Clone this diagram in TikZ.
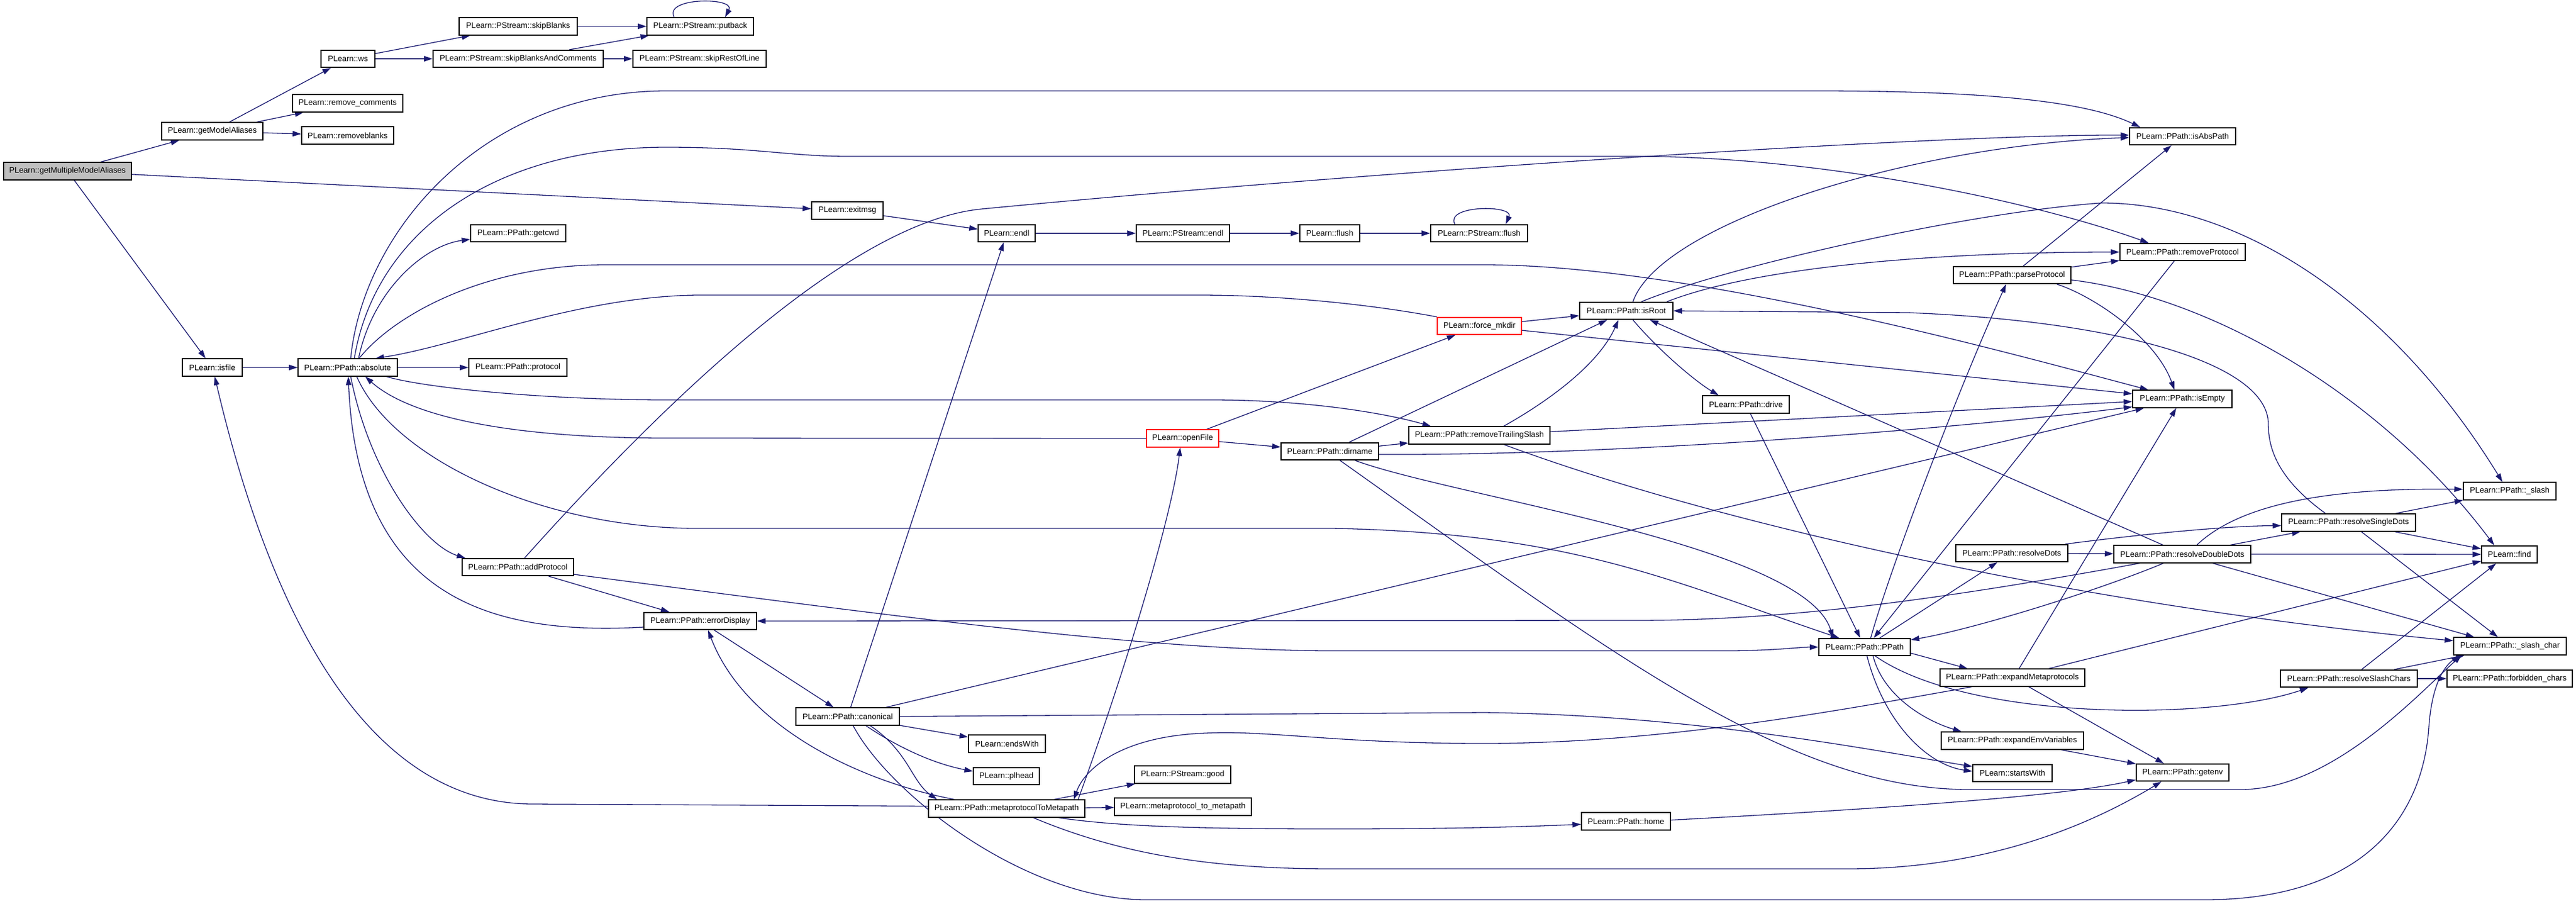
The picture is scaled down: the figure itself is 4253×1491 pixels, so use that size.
\documentclass[tikz,border=0pt]{standalone}
\usepackage{fontspec}
\setmainfont{Liberation Sans}
\usetikzlibrary{arrows.meta}
\pgfdeclarelayer{edgelayer}
\pgfsetlayers{edgelayer,main}
\definecolor{edgeblue}{HTML}{191970}
\definecolor{rootgrey}{HTML}{BFBFBF}
\tikzset{
  fn/.style={draw=black, line width=1.6pt, fill=white, rectangle, inner sep=0pt,
    minimum height=28.5pt, font=\fontsize{13.2}{15}\selectfont, text=black},
  redfn/.style={fn, draw=red},
  rootfn/.style={fn, fill=rootgrey},
  cedge/.style={draw=edgeblue, line width=1.3pt, -{Triangle[length=14pt,width=9pt]}},
}
\begin{document}
\begin{tikzpicture}[x=1pt,y=-1pt]
\useasboundingbox (0,0) rectangle (4253,1491);
% ---------------- nodes ----------------
\node[rootfn, minimum width=211pt] (gmma) at (111.5,282.5) {PLearn::getMultipleModelAliases};
\node[fn, minimum width=167pt] (gma) at (350.5,216.5) {PLearn::getModelAliases};
\node[fn, minimum width=89pt] (ws) at (574.5,97) {PLearn::ws};
\node[fn, minimum width=182pt] (rmc) at (574,170.5) {PLearn::remove\_comments};
\node[fn, minimum width=152pt] (rmb) at (574,223.5) {PLearn::removeblanks};
\node[fn, minimum width=195pt] (skb) at (855.5,43.5) {PLearn::PStream::skipBlanks};
\node[fn, minimum width=281pt] (skbc) at (855.5,97) {PLearn::PStream::skipBlanksAndComments};
\node[fn, minimum width=176pt] (putback) at (1156,43.5) {PLearn::PStream::putback};
\node[fn, minimum width=220pt] (skrol) at (1155,97) {PLearn::PStream::skipRestOfLine};
\node[fn, minimum width=118pt] (exitmsg) at (1399,347.5) {PLearn::exitmsg};
\node[fn, minimum width=94pt] (endl) at (1662,385) {PLearn::endl};
\node[fn, minimum width=154pt] (psendl) at (1953,385) {PLearn::PStream::endl};
\node[fn, minimum width=99pt] (flush) at (2195.5,385) {PLearn::flush};
\node[fn, minimum width=160pt] (psflush) at (2442,385) {PLearn::PStream::flush};
\node[fn, minimum width=157pt] (getcwd) at (855.5,385) {PLearn::PPath::getcwd};
\node[fn, minimum width=99pt] (isfile) at (350.5,606.5) {PLearn::isfile};
\node[fn, minimum width=164pt] (absolute) at (574,606.5) {PLearn::PPath::absolute};
\node[fn, minimum width=162pt] (protocol) at (855,606.5) {PLearn::PPath::protocol};
\node[fn, minimum width=184pt] (addProtocol) at (855,936) {PLearn::PPath::addProtocol};
\node[fn, minimum width=186pt] (errorDisplay) at (1156,1025) {PLearn::PPath::errorDisplay};
\node[fn, minimum width=171pt] (canonical) at (1399.5,1182.5) {PLearn::PPath::canonical};
\node[fn, minimum width=127pt] (endsWith) at (1662.5,1227.5) {PLearn::endsWith};
\node[fn, minimum width=109pt] (plhead) at (1661.5,1281) {PLearn::plhead};
\node[fn, minimum width=258pt] (m2m) at (1662,1334.5) {PLearn::PPath::metaprotocolToMetapath};
\node[fn, minimum width=159pt] (psgood) at (1952.5,1278.5) {PLearn::PStream::good};
\node[fn, minimum width=226pt] (mtm) at (1953,1331.5) {PLearn::metaprotocol\_to\_metapath};
\node[redfn, minimum width=119pt] (openFile) at (1952.5,723.5) {PLearn::openFile};
\node[fn, minimum width=161pt] (dirname) at (2195.5,745) {PLearn::PPath::dirname};
\node[redfn, minimum width=139pt] (forcemkdir) at (2442.5,538) {PLearn::force\_mkdir};
\node[fn, minimum width=154pt] (isRoot) at (2685,513) {PLearn::PPath::isRoot};
\node[fn, minimum width=143pt] (drive) at (2882.5,667.5) {PLearn::PPath::drive};
\node[fn, minimum width=233pt] (rts) at (2442.5,718.5) {PLearn::PPath::removeTrailingSlash};
\node[fn, minimum width=151pt] (ppath) at (3078.5,1068) {PLearn::PPath::PPath};
\node[fn, minimum width=147pt] (home) at (2684.5,1355.5) {PLearn::PPath::home};
\node[fn, minimum width=175pt] (isAbsPath) at (3603.5,225) {PLearn::PPath::isAbsPath};
\node[fn, minimum width=207pt] (removeProtocol) at (3603.5,416) {PLearn::PPath::removeProtocol};
\node[fn, minimum width=194pt] (parseProtocol) at (3322,454) {PLearn::PPath::parseProtocol};
\node[fn, minimum width=164pt] (isEmpty) at (3603,658.5) {PLearn::PPath::isEmpty};
\node[fn, minimum width=153pt] (slash) at (4143.5,810.5) {PLearn::PPath::\_slash};
\node[fn, minimum width=221pt] (rsd) at (3877.5,862.5) {PLearn::PPath::resolveSingleDots};
\node[fn, minimum width=185pt] (resolveDots) at (3321.5,913) {PLearn::PPath::resolveDots};
\node[fn, minimum width=226pt] (rdd) at (3603,914.5) {PLearn::PPath::resolveDoubleDots};
\node[fn, minimum width=92pt] (find) at (4143,915) {PLearn::find};
\node[fn, minimum width=186pt] (slashchar) at (4144,1066.5) {PLearn::PPath::\_slash\_char};
\node[fn, minimum width=239pt] (expandMeta) at (3322.5,1118.5) {PLearn::PPath::expandMetaprotocols};
\node[fn, minimum width=226pt] (rsc) at (3878,1120) {PLearn::PPath::resolveSlashChars};
\node[fn, minimum width=207pt] (forbidden) at (4143.5,1120) {PLearn::PPath::forbidden\_chars};
\node[fn, minimum width=235pt] (expandEnv) at (3322.5,1222.5) {PLearn::PPath::expandEnvVariables};
\node[fn, minimum width=131pt] (startsWith) at (3322.5,1276) {PLearn::startsWith};
\node[fn, minimum width=153pt] (getenv) at (3603.5,1275) {PLearn::PPath::getenv};
% ---------------- edges ----------------
\begin{pgfonlayer}{edgelayer}
\draw[cedge] (gmma) -- (gma);
\draw[cedge] (gmma) -- (exitmsg);
\draw[cedge] (gmma) -- (isfile);
\draw[cedge] (gma) -- (ws);
\draw[cedge] (gma) -- (rmc);
\draw[cedge] (gma) -- (rmb);
\draw[cedge] (ws) -- (skb);
\draw[cedge] (ws) -- (skbc);
\draw[cedge] (skb) -- (putback);
\draw[cedge] (skbc) -- (putback);
\draw[cedge] (skbc) -- (skrol);
\draw[cedge] ([xshift=-43pt]putback.north) .. controls (1095,-5) and (1215,-5) .. ([xshift=41pt]putback.north);
\draw[cedge] (exitmsg) -- (endl);
\draw[cedge] (endl) -- (psendl);
\draw[cedge] (psendl) -- (flush);
\draw[cedge] (flush) -- (psflush);
\draw[cedge] ([xshift=-40pt]psflush.north) .. controls (2385,338) and (2500,338) .. ([xshift=44pt]psflush.north);
\draw[cedge] (isfile) -- (absolute);
\draw[cedge] (absolute) -- (protocol);
% absolute
\draw[cedge] ([xshift=18pt]absolute.north) .. controls (615,480) and (700,405) .. ([yshift=5pt]getcwd.south west);
\draw[cedge] ([xshift=5pt]absolute.north) .. controls (600,380) and (800,150) .. (1100,150) -- (3000,150) .. controls (3300,150) and (3450,170) .. ([xshift=-70pt]isAbsPath.north);
\draw[cedge] ([xshift=11pt]absolute.north) .. controls (620,380) and (820,243) .. (1100,243) .. controls (1250,243) and (1300,258) .. (1400,258) -- (2700,258) .. controls (3000,258) and (3350,330) .. ([xshift=-56pt]removeProtocol.north);
\draw[cedge] ([xshift=19pt]absolute.north) .. controls (650,520) and (800,437) .. (1000,437) -- (2450,437) .. controls (2800,437) and (3347,591) .. ([xshift=-56pt]isEmpty.north);
\draw[cedge] ([xshift=64pt]absolute.south) .. controls (700,640) and (900,660) .. (1100,660) -- (2000,660) .. controls (2150,660) and (2280,680) .. ([xshift=-80pt]rts.north);
\draw[cedge] ([xshift=15pt]absolute.south) .. controls (650,760) and (900,872) .. (1150,872) -- (2200,872) .. controls (2600,880) and (2760,960) .. ([xshift=-42pt]ppath.north);
\draw[cedge] ([xshift=5pt]absolute.south) .. controls (610,780) and (700,900) .. ([xshift=6pt]addProtocol.north west);
\draw[cedge] ([yshift=-10pt]errorDisplay.west) .. controls (800,1050) and (590,980) .. ([xshift=1pt]absolute.south);
\draw[cedge] (openFile.west) -- (1100,723) .. controls (850,723) and (680,690) .. ([xshift=29pt]absolute.south);
% addProtocol
\draw[cedge] ([xshift=11pt]addProtocol.north) .. controls (1191,558) and (1447,362) .. (1620,345) .. controls (2300,280) and (3200,222) .. ([yshift=2pt]isAbsPath.west);
\draw[cedge] ([yshift=-12pt]addProtocol.east) .. controls (1500,1020) and (1900,1074) .. (2200,1074) -- (2850,1074) .. controls (2930,1074) and (2970,1068) .. (ppath.west);
\draw[cedge] (addProtocol) -- (errorDisplay);
% errorDisplay
\draw[cedge] (errorDisplay) -- (canonical);
\draw[cedge] ([xshift=-86pt]m2m.north) .. controls (1420,1290) and (1230,1200) .. ([xshift=13pt]errorDisplay.south);
% canonical
\draw[cedge] (canonical) -- (endl);
\draw[cedge] (canonical) -- (isEmpty);
\draw[cedge] (canonical.east) -- (2450,1176) .. controls (2800,1180) and (3100,1240) .. ([yshift=11pt]startsWith.west);
\draw[cedge] (canonical) -- (endsWith);
\draw[cedge] ([xshift=30pt]canonical.south) .. controls (1470,1225) and (1530,1258) .. ([yshift=8pt]plhead.west);
\draw[cedge] ([xshift=37pt]canonical.south) .. controls (1500,1240) and (1505,1290) .. ([xshift=-115pt]m2m.north);
\draw[cedge] ([xshift=9pt]canonical.south) .. controls (1468,1310) and (1692,1485) .. (1892,1485) -- (3640,1485) .. controls (3900,1485) and (4000,1350) .. (4010,1200) .. controls (4015,1130) and (4035,1100) .. ([xshift=-83pt]slashchar.south);
% metaprotocolToMetapath
\draw[cedge] ([yshift=4pt]m2m.west) -- (880,1327) .. controls (560,1327) and (420,900) .. ([xshift=4pt]isfile.south);
\draw[cedge] ([xshift=118pt]m2m.north) .. controls (1860,1100) and (1935,850) .. ([xshift=-4pt]openFile.south);
\draw[cedge] (m2m) -- (psgood);
\draw[cedge] (m2m) -- (mtm);
\draw[cedge] ([xshift=86pt]m2m.south) .. controls (1850,1365) and (2000,1368) .. (2200,1368) .. controls (2400,1368) and (2500,1365) .. ([yshift=-5pt]home.west);
\draw[cedge] ([xshift=44pt]m2m.south) .. controls (1850,1410) and (2000,1434) .. (2200,1434) -- (3050,1434) .. controls (3250,1434) and (3420,1380) .. ([xshift=-35pt]getenv.south);
% expandMetaprotocols -> metaprotocolToMetapath
\draw[cedge] ([xshift=-67pt]expandMeta.south) .. controls (3050,1170) and (2750,1227) .. (2450,1227) .. controls (2200,1227) and (2100,1205) .. (1990,1210) .. controls (1850,1215) and (1790,1270) .. ([xshift=111pt]m2m.north);
% openFile
\draw[cedge] (openFile) -- (forcemkdir);
\draw[cedge] (openFile) -- (dirname);
% force_mkdir
\draw[cedge] (forcemkdir.north west) .. controls (2250,500) and (2100,487) .. (1980,487) -- (1150,487) .. controls (950,490) and (760,570) .. ([xshift=46pt]absolute.north);
\draw[cedge] (forcemkdir) -- (isRoot);
\draw[cedge] (forcemkdir) -- (isEmpty);
% dirname
\draw[cedge] (dirname) -- (rts);
\draw[cedge] (dirname) -- (isRoot);
\draw[cedge] ([yshift=-5pt]dirname.east) .. controls (2700,752) and (3250,705) .. ([yshift=2pt]isEmpty.south west);
\draw[cedge] ([xshift=42pt]dirname.south) .. controls (2400,820) and (2980,900) .. ([xshift=-52pt]ppath.north);
\draw[cedge] ([xshift=17pt]dirname.south) .. controls (2650,1070) and (2950,1303) .. (3250,1303) -- (3700,1303) .. controls (3850,1303) and (3994,1144) .. ([xshift=-80pt]slashchar.south);
% removeTrailingSlash
\draw[cedge] ([xshift=40pt]rts.north) .. controls (2560,660) and (2640,600) .. ([xshift=-13pt]isRoot.south);
\draw[cedge] (rts) -- (isEmpty);
\draw[cedge] ([xshift=40pt]rts.south) .. controls (2850,870) and (3450,1000) .. ([yshift=9pt]slashchar.west);
% isRoot
\draw[cedge] ([xshift=11pt]isRoot.south) .. controls (2740,580) and (2800,630) .. ([xshift=-45pt]drive.north);
\draw[cedge] ([xshift=11pt]isRoot.north) .. controls (2740,370) and (3150,240) .. ([yshift=-2pt]isAbsPath.west);
\draw[cedge] ([xshift=25pt]isRoot.north) .. controls (2850,440) and (3250,350) .. (3470,335) .. controls (3700,335) and (3950,500) .. ([xshift=-12pt]slash.north);
\draw[cedge] ([xshift=67pt]isRoot.north) .. controls (2900,440) and (3200,416) .. (removeProtocol.west);
% drive
\draw[cedge] (drive) -- (ppath);
% PPath
\draw[cedge] ([xshift=10pt]ppath.north) .. controls (3120,940) and (3230,650) .. ([xshift=-10pt]parseProtocol.south);
\draw[cedge] ([xshift=25pt]ppath.north) -- ([xshift=-24pt]resolveDots.south);
\draw[cedge] ([yshift=-10pt]ppath.east) -- ([xshift=-74pt]expandMeta.north);
\draw[cedge] ([xshift=18pt]ppath.south) .. controls (3250,1190) and (3650,1190) .. ([xshift=-67pt]rsc.south);
\draw[cedge] ([xshift=14pt]ppath.south) .. controls (3110,1150) and (3180,1190) .. ([xshift=-84pt]expandEnv.north);
\draw[cedge] ([xshift=4pt]ppath.south) .. controls (3110,1190) and (3180,1262) .. ([yshift=3pt]startsWith.west);
% parseProtocol
\draw[cedge] (parseProtocol) -- (isAbsPath);
\draw[cedge] (parseProtocol) -- (removeProtocol);
\draw[cedge] ([xshift=74pt]parseProtocol.south) .. controls (3460,490) and (3560,560) .. ([xshift=-13pt]isEmpty.north);
\draw[cedge] ([yshift=-8pt]parseProtocol.east) .. controls (3650,490) and (3930,650) .. ([xshift=-25pt]find.north);
% removeProtocol
\draw[cedge] ([xshift=-14pt]removeProtocol.south) -- ([xshift=15pt]ppath.north);
% resolveDots
\draw[cedge] ([xshift=-5pt]resolveDots.north east) .. controls (3550,880) and (3680,868) .. ([yshift=-5pt]rsd.west);
\draw[cedge] (resolveDots) -- (rdd);
% resolveDoubleDots
\draw[cedge] (rdd) -- (rsd);
\draw[cedge] (rdd) -- (find);
\draw[cedge] ([xshift=24pt]rdd.north) .. controls (3700,830) and (3850,805) .. ([yshift=3pt]slash.west);
\draw[cedge] ([xshift=50pt]rdd.south) -- ([xshift=-59pt]slashchar.north);
\draw[cedge] ([xshift=-32pt]rdd.north) -- ([xshift=39pt]isRoot.south);
\draw[cedge] ([xshift=-70pt]rdd.south) .. controls (3200,990) and (2950,1024) .. (2700,1024) -- (errorDisplay.east);
\draw[cedge] ([xshift=-31pt]rdd.south) .. controls (3450,980) and (3250,1040) .. ([yshift=12pt]ppath.east);
% resolveSingleDots
\draw[cedge] ([xshift=-38pt]rsd.north) .. controls (3760,790) and (3745,740) .. (3745,700) .. controls (3745,600) and (3500,530) .. (3150,516) -- (isRoot.east);
\draw[cedge] (rsd) -- (slash);
\draw[cedge] (rsd) -- (find);
\draw[cedge] ([xshift=21pt]rsd.south) -- ([xshift=-20pt]slashchar.north);
% expandMetaprotocols
\draw[cedge] ([xshift=11pt]expandMeta.north) -- ([xshift=-10pt]isEmpty.south);
\draw[cedge] ([xshift=60pt]expandMeta.north) -- ([yshift=-11pt]find.west);
\draw[cedge] ([xshift=27pt]expandMeta.south) -- ([xshift=-31pt]getenv.north);
% others
\draw[cedge] (expandEnv) -- (getenv);
\draw[cedge] (rsc) -- (slashchar);
\draw[cedge] (rsc) -- (forbidden);
\draw[cedge] ([xshift=21pt]rsc.north) -- ([xshift=-22pt]find.south);
\draw[cedge] ([yshift=2pt]home.east) .. controls (3100,1335) and (3400,1315) .. ([yshift=-12pt]getenv.west);
\end{pgfonlayer}
\end{tikzpicture}
\end{document}
